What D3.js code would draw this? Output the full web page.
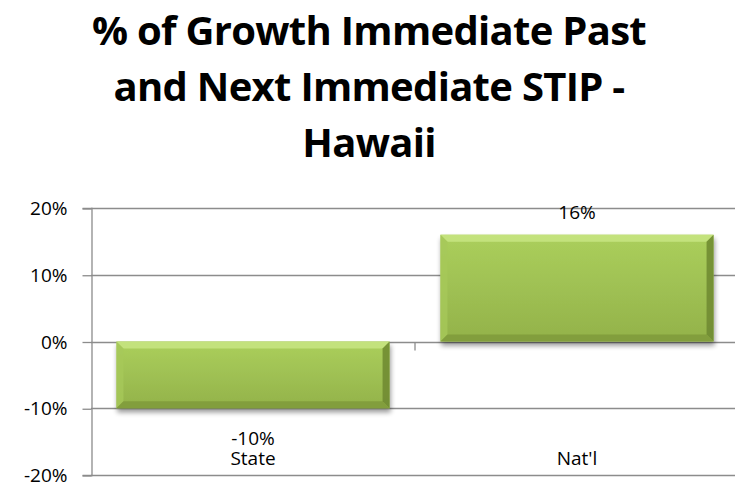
<!DOCTYPE html>
<html>
<head>
<meta charset="utf-8">
<script src="https://cdn.jsdelivr.net/npm/d3@7/dist/d3.min.js"></script>
<style>
  html, body { margin: 0; padding: 0; background: #fff; }
  svg { display: block; }
  text { font-family: "Open Sans", "Noto Sans", sans-serif; fill: #000; }
</style>
</head>
<body>
<svg id="chart" width="735" height="485"></svg>
<script>
// Growth figures for each region
const categories = ["State", "Nat'l"];
const values = [-0.10, 0.16];
const valueLabels = ["-10%", "16%"];
const tickValues = [-0.2, -0.1, 0, 0.1, 0.2];
const tickLabels = ["-20%", "-10%", "0%", "10%", "20%"];
const titleLines = ["% of Growth Immediate Past", "and Next Immediate STIP -", "Hawaii"];

const svg = d3.select("#chart");
const plotLeft = 91, plotRight = 739, plotTop = 208, plotBottom = 475;

const x = d3.scaleBand().domain(categories).range([plotLeft, plotRight])
  .paddingInner(0.157).paddingOuter(0.0785);
const y = d3.scaleLinear().domain([-0.2, 0.2]).range([plotBottom, plotTop]);

// Title
const title = svg.append("g");
const tb = [45, 101, 157];
titleLines.forEach((t, i) => {
  title.append("text")
    .attr("x", 369).attr("y", tb[i])
    .attr("text-anchor", "middle")
    .style("font-weight", "700")
    .style("font-size", "40px")
    .style("letter-spacing", "-0.7px")
    .text(t);
});

// Gridlines
const gridColor = "#8c8c8c";
svg.append("g").selectAll("line").data(tickValues).join("line")
  .attr("x1", plotLeft).attr("x2", plotRight)
  .attr("y1", d => Math.round(y(d)) + 0.5).attr("y2", d => Math.round(y(d)) + 0.5)
  .attr("stroke", gridColor).attr("stroke-width", 1.3);

// Y axis
const yAxis = d3.axisLeft(y).tickValues(tickValues)
  .tickFormat((d, i) => tickLabels[i]).tickSize(9).tickPadding(15);
const ga = svg.append("g").attr("transform", `translate(${plotLeft + 0.5},0)`).call(yAxis);
ga.select(".domain").attr("stroke", gridColor).attr("stroke-width", 1.3);
ga.selectAll(".tick line").attr("stroke", gridColor).attr("stroke-width", 1.3)
  .attr("transform", "translate(0,0.5)");
ga.selectAll(".tick text").style("font-size", "19px").style("font-family", "'Open Sans', sans-serif")
  .attr("fill", "#000").attr("dy", "0.35em");

// Category axis at zero with a divider tick between categories
const y0 = Math.round(y(0)) + 0.5;
const divX = x(categories[1]) - x.step() * x.paddingInner() / 2;
svg.append("line").attr("x1", divX).attr("x2", divX).attr("y1", y0).attr("y2", y0 + 8)
  .attr("stroke", gridColor).attr("stroke-width", 1.3);

// Bar styling
const defs = svg.append("defs");
const grad = defs.append("linearGradient").attr("id", "barFill").attr("x1", 0).attr("y1", 0).attr("x2", 0).attr("y2", 1);
grad.append("stop").attr("offset", "0%").attr("stop-color", "#abcf5c");
grad.append("stop").attr("offset", "100%").attr("stop-color", "#93b24a");
const shadow = defs.append("filter").attr("id", "shadow").attr("x", "-5%").attr("y", "-5%").attr("width", "115%").attr("height", "130%");
shadow.append("feGaussianBlur").attr("in", "SourceAlpha").attr("stdDeviation", 2.5).attr("result", "b");
shadow.append("feOffset").attr("in", "b").attr("dx", 1).attr("dy", 4).attr("result", "o");
shadow.append("feComponentTransfer").attr("in", "o").attr("result", "s")
  .append("feFuncA").attr("type", "linear").attr("slope", 0.4);
const merge = shadow.append("feMerge");
merge.append("feMergeNode").attr("in", "s");
merge.append("feMergeNode").attr("in", "SourceGraphic");

const bars = svg.append("g").selectAll("g")
  .data(categories.map((c, i) => ({c, v: values[i], label: valueLabels[i]}))).join("g");
bars.each(function(d) {
  const g = d3.select(this);
  const x0 = x(d.c), w = x.bandwidth();
  const yt = y(Math.max(0, d.v)), yb = y(Math.min(0, d.v));
  const h = yb - yt, b = 7;
  const inner = g.append("g").attr("filter", "url(#shadow)");
  inner.append("rect").attr("x", x0).attr("y", yt).attr("width", w).attr("height", h).attr("fill", "url(#barFill)");
  // bevelled edges
  inner.append("polygon").attr("points", [[x0, yt], [x0 + w, yt], [x0 + w - b, yt + b], [x0 + b, yt + b]].join(" "))
    .attr("fill", "#c8e582").attr("opacity", 0.85);
  inner.append("polygon").attr("points", [[x0, yt], [x0 + b, yt + b], [x0 + b, yb - b], [x0, yb]].join(" "))
    .attr("fill", "#a6c85a").attr("opacity", 0.8);
  inner.append("polygon").attr("points", [[x0 + w, yt], [x0 + w, yb], [x0 + w - b, yb - b], [x0 + w - b, yt + b]].join(" "))
    .attr("fill", "#6d8830").attr("opacity", 0.85);
  inner.append("polygon").attr("points", [[x0, yb], [x0 + w, yb], [x0 + w - b, yb - b], [x0 + b, yb - b]].join(" "))
    .attr("fill", "#7f9a3a").attr("opacity", 0.85);
});

// Value labels
bars.append("text")
  .attr("x", d => x(d.c) + x.bandwidth() / 2)
  .attr("y", d => d.v >= 0 ? y(d.v) - 16 : y(d.v) + 37)
  .attr("text-anchor", "middle").style("font-size", "19px")
  .text(d => d.label);

// Category labels
svg.append("g").selectAll("text").data(categories).join("text")
  .attr("x", d => x(d) + x.bandwidth() / 2).attr("y", 465)
  .attr("text-anchor", "middle").style("font-size", "19px")
  .text(d => d);
</script>
</body>
</html>
